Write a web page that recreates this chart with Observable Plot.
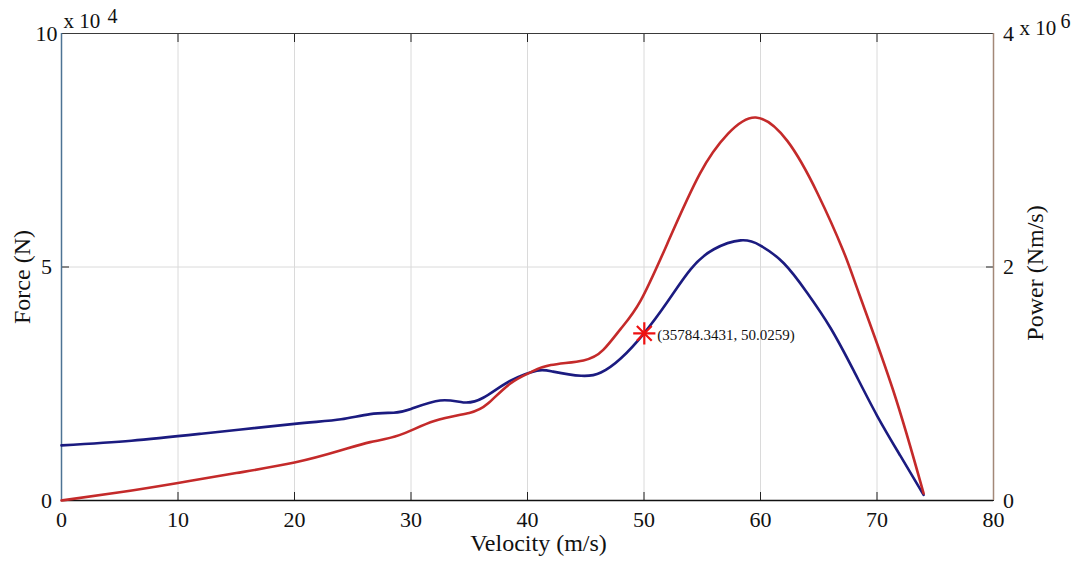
<!DOCTYPE html>
<html><head><meta charset="utf-8">
<script src="https://cdn.jsdelivr.net/npm/d3@7"></script>
<script src="https://cdn.jsdelivr.net/npm/@observablehq/plot@0.6"></script>
<style>
html,body{margin:0;padding:0;background:#fff}
#chart{width:1078px;height:563px}
#chart svg, #chart svg text{font-family:"Liberation Serif","DejaVu Serif","Noto Serif",serif !important;}
</style>
</head><body><div id="chart"></div>
<script>
// Force curve (blue, left axis, units of 10^4 N)
const forceVelocity = [0, 6, 12, 20, 24, 26.5, 28.5, 30, 32.5, 34.5, 36.2, 38.5, 40.8, 42.2, 44.6, 46.3, 48, 50, 52, 54, 56, 58.3, 60, 62, 64, 66, 68, 70, 72, 74];
const force = [1.18, 1.28, 1.43, 1.64, 1.74, 1.85, 1.88, 1.96, 2.14, 2.1, 2.2, 2.56, 2.78, 2.76, 2.67, 2.74, 3.04, 3.58, 4.25, 4.95, 5.38, 5.57, 5.46, 5.08, 4.45, 3.7, 2.78, 1.82, 0.96, 0.12];
// Power curve (red, right axis, units of 10^6 Nm/s)
const powerVelocity = [0, 5, 10, 15, 20, 24, 26.5, 29, 32, 35, 36.6, 38.5, 40.3, 42, 44.8, 46.5, 48, 49.7, 52, 54.8, 57.2, 59.6, 62.3, 64.9, 67.1, 68.5, 71.4, 74];
const power = [0, 0.07, 0.15, 0.235, 0.325, 0.43, 0.5, 0.56, 0.68, 0.75, 0.83, 1.0, 1.1, 1.16, 1.2, 1.29, 1.47, 1.71, 2.2, 2.8, 3.14, 3.28, 3.08, 2.63, 2.14, 1.76, 0.94, 0.06];
// Axes
const xTicks = [0, 10, 20, 30, 40, 50, 60, 70, 80];
const leftTicks = [0, 5, 10];
const rightTickLabels = ["0", "2", "4"];
const leftMax = 10, rightMax = 4;
// Data tip
const tipVelocity = 50.0259, tipForce = 3.57843431;
const tipLabel = "(35784.3431, 50.0259)";

const ratio = leftMax / rightMax;
const forceData = forceVelocity.map((v, i) => ({v, y: force[i]}));
const powerData = powerVelocity.map((v, i) => ({v, y: power[i] * ratio}));
const tip = [{v: tipVelocity, y: tipForce}];
const font = "Liberation Serif, DejaVu Serif, serif";
const ink = "#111";
const T = {fontFamily: font, fill: ink};

const plot = Plot.plot({
  width: 1078, height: 563,
  marginLeft: 61, marginRight: 85, marginTop: 33, marginBottom: 63,
  style: {fontFamily: font, background: "#fff", color: ink, overflow: "visible"},
  x: {domain: [0, 80]},
  y: {domain: [0, leftMax]},
  marks: [
    Plot.gridX(xTicks.slice(1, -1), {stroke: "#dadada", strokeOpacity: 1}),
    Plot.gridY([5], {stroke: "#dadada", strokeOpacity: 1}),
    // inward ticks
    Plot.axisX({ticks: xTicks, anchor: "bottom", tickSize: -8, tickFormat: () => "", label: null, stroke: "#222"}),
    Plot.axisX({ticks: xTicks, anchor: "top", tickSize: -8, tickFormat: () => "", label: null, stroke: "#222"}),
    Plot.axisY({ticks: leftTicks, anchor: "left", tickSize: -8, tickFormat: () => "", label: null, stroke: "#222"}),
    Plot.axisY({ticks: leftTicks, anchor: "right", tickSize: -8, tickFormat: () => "", label: null, stroke: "#222"}),
    // tick labels
    Plot.axisX({ticks: xTicks, anchor: "bottom", tickSize: 0, tickPadding: 11, fontSize: 22, label: null, ...T}),
    Plot.axisY({ticks: leftTicks, anchor: "left", tickSize: 0, tickPadding: 15, textAnchor: "middle", fontSize: 22, label: null, ...T}),
    Plot.axisY({ticks: leftTicks, anchor: "right", tickSize: 0, tickPadding: 15, textAnchor: "middle", fontSize: 22, label: null, ...T,
      tickFormat: (d) => rightTickLabels[leftTicks.indexOf(d)]}),
    // spines
    Plot.ruleY([leftMax], {stroke: "#3a3a3a", strokeWidth: 1.2}),
    Plot.ruleY([0], {stroke: "#111", strokeWidth: 1.5}),
    Plot.ruleX([0], {stroke: "#4d7394", strokeWidth: 1.5}),
    Plot.ruleX([80], {stroke: "#a38878", strokeWidth: 1.5}),
    // curves
    Plot.line(forceData, {x: "v", y: "y", stroke: "#1b1b80", strokeWidth: 2.6, curve: "natural"}),
    Plot.line(powerData, {x: "v", y: "y", stroke: "#c42a2a", strokeWidth: 2.6, curve: "natural"}),
    // data tip
    Plot.dot(tip, {x: "v", y: "y", symbol: "plus", r: 7.2, stroke: "#ee1111", strokeWidth: 2.2}),
    Plot.dot(tip, {x: "v", y: "y", symbol: "times", r: 6.8, stroke: "#ee1111", strokeWidth: 2.2}),
    Plot.text(tip, {x: "v", y: "y", text: () => tipLabel, textAnchor: "start", lineAnchor: "middle", dx: 13, dy: 2, fontSize: 15, ...T}),
    // exponent labels
    Plot.text(["x 10"], {frameAnchor: "top-left", textAnchor: "start", lineAnchor: "middle", dx: 2, dy: -12, fontSize: 21, ...T}),
    Plot.text(["4"], {frameAnchor: "top-left", textAnchor: "start", lineAnchor: "middle", dx: 46, dy: -17, fontSize: 20, ...T}),
    Plot.text(["x 10"], {frameAnchor: "top-right", textAnchor: "start", lineAnchor: "middle", dx: 26, dy: -5, fontSize: 21, ...T}),
    Plot.text(["6"], {frameAnchor: "top-right", textAnchor: "start", lineAnchor: "middle", dx: 67, dy: -12, fontSize: 20, ...T}),
    // axis titles
    Plot.text(["Velocity (m/s)"], {frameAnchor: "bottom", textAnchor: "middle", lineAnchor: "middle", dx: 11, dy: 43, fontSize: 24, ...T}),
    Plot.text(["Force (N)"], {frameAnchor: "left", textAnchor: "middle", lineAnchor: "middle", rotate: -90, dx: -39, dy: 10, fontSize: 24, ...T}),
    Plot.text(["Power (Nm/s)"], {frameAnchor: "right", textAnchor: "middle", lineAnchor: "middle", rotate: -90, dx: 42, dy: 6, fontSize: 24, ...T})
  ]
});
document.getElementById("chart").appendChild(plot);
</script>
</body></html>
